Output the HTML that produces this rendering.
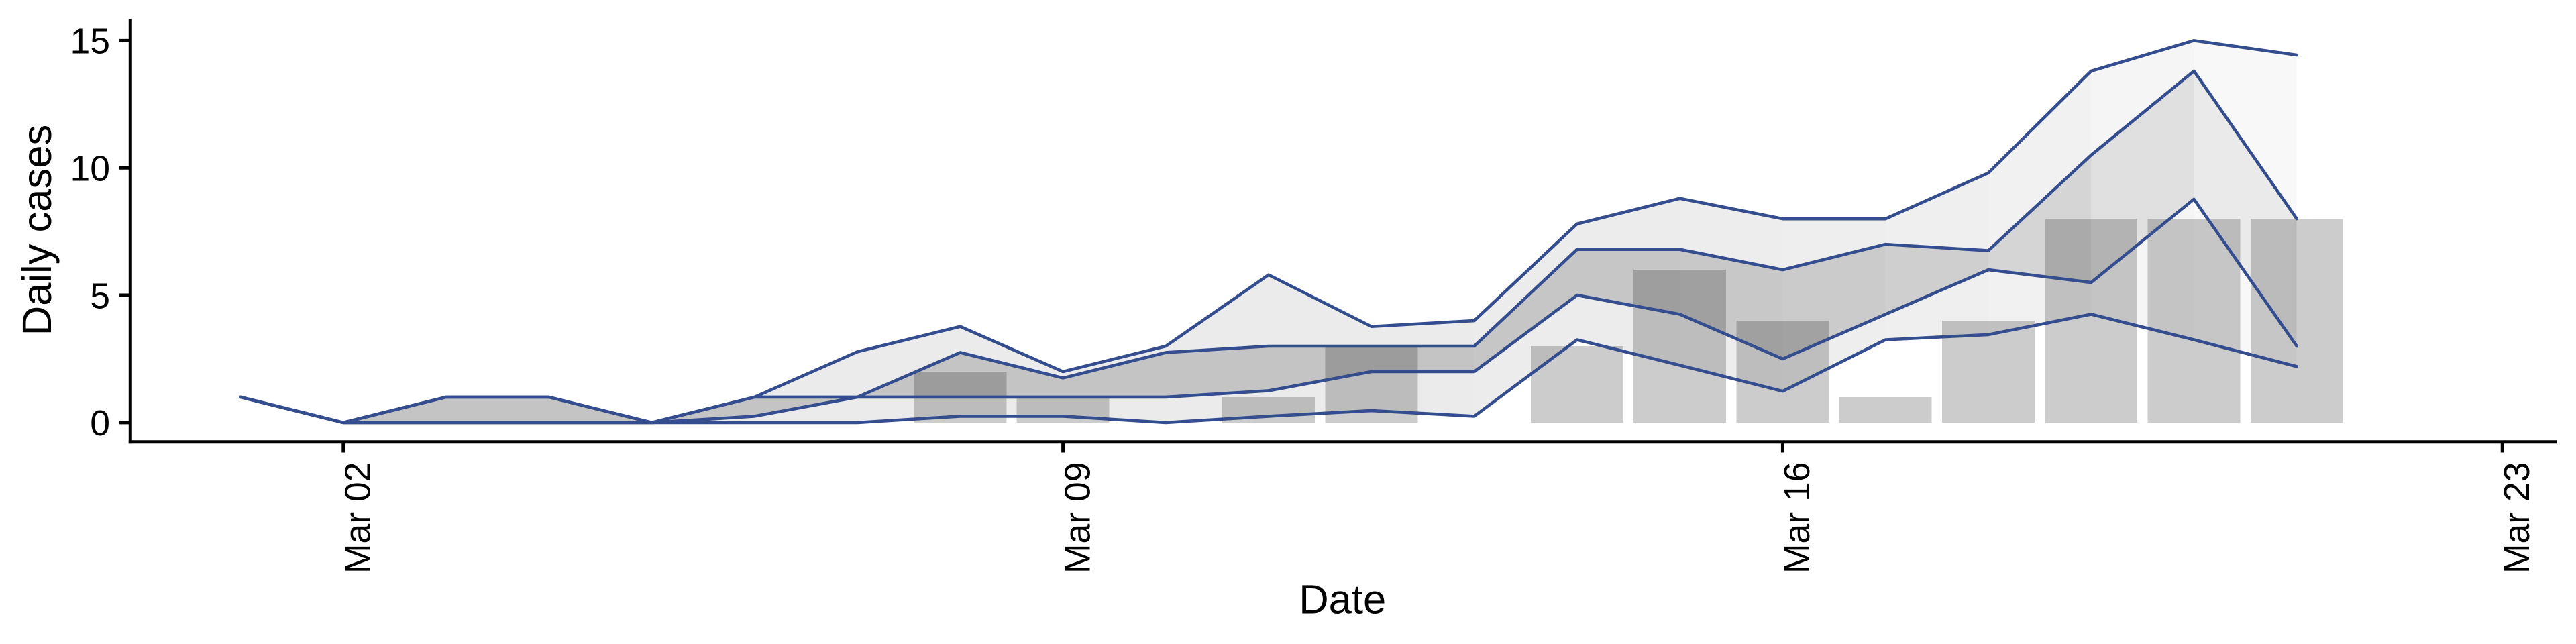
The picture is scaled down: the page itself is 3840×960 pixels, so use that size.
<!DOCTYPE html>
<html>
<head>
<meta charset="utf-8">
<title>Daily cases</title>
<style>
html,body{margin:0;padding:0;background:#fff;width:3840px;height:960px;overflow:hidden}
svg{display:block}
text{font-family:"Liberation Sans",Arial,sans-serif;fill:#000}
</style>
</head>
<body>
<svg id="chart" xmlns="http://www.w3.org/2000/svg" width="3840" height="960" viewBox="0 0 3840 960"></svg>
<script>
const days = [1,2,3,4,5,6,7,8,9,10,11,12,13,14,15,16,17,18,19,20,21];
const reported = [0,0,0,0,0,0,0,2,1,0,1,3,0,3,6,4,1,4,8,8,8];
const quantileLow = [1,0,0,0,0,0,0,0.25,0.25,0,0.25,0.47,0.25,3.25,2.25,1.23,3.25,3.45,4.25,3.25,2.2];
const quantileMidLow = [1,0,0,0,0,0.25,1,1,1,1,1.25,2,2,5,4.25,2.5,4.25,6,5.5,8.77,3];
const quantileMidHigh = [1,0,1,1,0,1,1,2.75,1.75,2.75,3,3,3,6.8,6.8,6,7,6.75,10.5,13.8,8];
const quantileHigh = [1,0,1,1,0,1,2.78,3.77,2,3,5.8,3.77,4,7.8,8.8,8,8,9.8,13.8,15,14.43];
const confidence = [1,1,1,1,1,1,1,1,1,1,1,1,0.98,0.96,0.93,0.88,0.8,0.68,0.5,0.33];
const yTickValues = [0,5,10,15];
const xTickDays = [2,9,16,23];
const xTickLabels = ["Mar 02","Mar 09","Mar 16","Mar 23"];

const svg = document.getElementById('chart');
const NS = 'http://www.w3.org/2000/svg';
const LINE = '#344d8e';
const AXIS_LEFT = 194.3, AXIS_RIGHT = 3811, AXIS_TOP = 28.5, AXIS_BOTTOM = 658.8;
const BAR_WIDTH_DAYS = 0.9;

function xScale(day){ return 511.8 + 153.26 * (day - 2); }
function yScale(v){ return 629.9 - 37.97 * v; }

function make(tag, attrs, parent){
  const el = document.createElementNS(NS, tag);
  for (const k in attrs) el.setAttribute(k, attrs[k]);
  (parent || svg).appendChild(el);
  return el;
}
function band(lo, hi, i){
  const pts = [
    [xScale(days[i]), yScale(lo[i])],
    [xScale(days[i+1]), yScale(lo[i+1])],
    [xScale(days[i+1]), yScale(hi[i+1])],
    [xScale(days[i]), yScale(hi[i])]
  ];
  return pts.map(p => p[0].toFixed(2) + ',' + p[1].toFixed(2)).join(' ');
}

/* outer ribbon */
for (let i = 0; i < days.length - 1; i++) {
  const el = make('polygon', {points: band(quantileLow, quantileHigh, i), fill: '#000', 'fill-opacity': (0.078 * confidence[i]).toFixed(4), 'shape-rendering': 'crispEdges'});
  
  
}
/* inner ribbon */
for (let i = 0; i < days.length - 1; i++) {
  const el = make('polygon', {points: band(quantileMidLow, quantileMidHigh, i), fill: '#000', 'fill-opacity': (0.166 * confidence[i]).toFixed(4), 'shape-rendering': 'crispEdges'});
  
  
}
/* bars */
const barWidth = (xScale(2) - xScale(1)) * BAR_WIDTH_DAYS;
days.forEach((d, i) => {
  if (!reported[i]) return;
  const el = make('rect', {x: (xScale(d) - barWidth / 2).toFixed(2), y: yScale(reported[i]).toFixed(2), width: barWidth.toFixed(2), height: (yScale(0) - yScale(reported[i])).toFixed(2), fill: '#000', 'fill-opacity': 0.2, 'shape-rendering': 'crispEdges'});
  
  
});
/* lines */
function drawLine(values, name){
  const pts = days.map((d, i) => xScale(d).toFixed(2) + ',' + yScale(values[i]).toFixed(2)).join(' ');
  const el = make('polyline', {points: pts, fill: 'none', stroke: LINE, 'stroke-width': 4.6, 'stroke-linejoin': 'round', 'stroke-linecap': 'round'});
  
  
}
drawLine(quantileLow, 'lower-bound-line');
drawLine(quantileMidLow, 'mid-lower-line');
drawLine(quantileMidHigh, 'mid-upper-line');
drawLine(quantileHigh, 'upper-bound-line');

/* axes */
const yAxis = make('line', {x1: AXIS_LEFT, y1: AXIS_TOP, x2: AXIS_LEFT, y2: AXIS_BOTTOM + 2.5, stroke: '#000', 'stroke-width': 5});


const xAxis = make('line', {x1: AXIS_LEFT - 2.5, y1: AXIS_BOTTOM, x2: AXIS_RIGHT, y2: AXIS_BOTTOM, stroke: '#000', 'stroke-width': 5});



yTickValues.forEach(v => {
  const t = make('line', {x1: 178, y1: yScale(v), x2: AXIS_LEFT, y2: yScale(v), stroke: '#000', 'stroke-width': 5});
  
  
  const l = make('text', {x: 164, y: (yScale(v) + 19.3).toFixed(2), 'text-anchor': 'end', 'font-size': 53.5});
  
  
  l.textContent = String(v);
});
xTickDays.forEach((d, i) => {
  const x = xScale(d);
  const t = make('line', {x1: x, y1: AXIS_BOTTOM, x2: x, y2: 674.5, stroke: '#000', 'stroke-width': 5});
  
  
  const lx = (x + 39.8).toFixed(2);
  const l = make('text', {x: lx, y: 855, 'font-size': 53.5, transform: 'rotate(-90 ' + lx + ' 855)'});
  
  
  l.textContent = xTickLabels[i];
});

const yTitle = make('text', {x: 76, y: 343, 'text-anchor': 'middle', 'font-size': 61.5, transform: 'rotate(-90 76 343)'});


yTitle.textContent = 'Daily cases';
const xTitle = make('text', {x: 2001.2, y: 914.5, 'text-anchor': 'middle', 'font-size': 61.5});


xTitle.textContent = 'Date';
</script>
</body>
</html>
